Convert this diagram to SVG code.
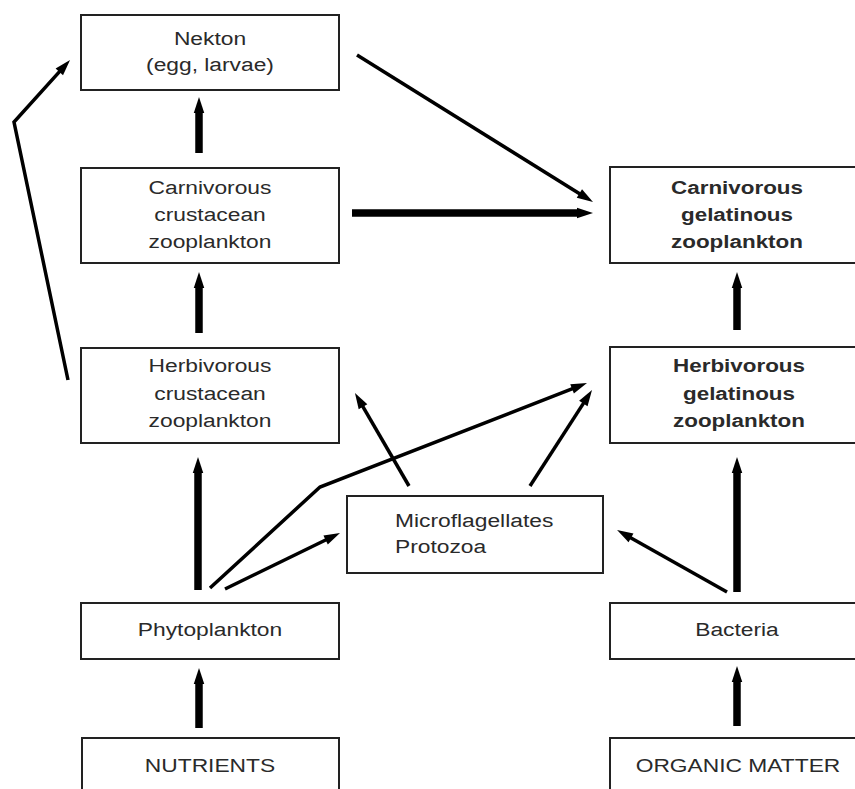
<svg xmlns="http://www.w3.org/2000/svg" width="855" height="789" viewBox="0 0 855 789">
<style>
.box{fill:#fff;stroke:#222;stroke-width:2}
.t{font-family:"Liberation Sans",Arial,sans-serif;font-size:19px;fill:#2a2a2a;text-anchor:middle}
.b{font-weight:bold}
.s{text-anchor:start}
.thin{fill:none;stroke:#000;stroke-width:3.5;marker-end:url(#ah)}
.thick{fill:none;stroke:#000;stroke-width:7.5;marker-end:url(#ahk)}
</style>
<defs>
<marker id="ah" markerUnits="userSpaceOnUse" markerWidth="16" markerHeight="10" refX="4" refY="5" orient="auto" overflow="visible"><path d="M0,0 L16,5 L0,10 Z" fill="#000"/></marker>
<marker id="ahk" markerUnits="userSpaceOnUse" markerWidth="16" markerHeight="10.5" refX="4" refY="5.25" orient="auto" overflow="visible"><path d="M0,0 L16,5.25 L0,10.5 Z" fill="#000"/></marker>
</defs>
<rect width="855" height="789" fill="#fff"/>
<g id="nekton"><rect class="box" x="81" y="15" width="258" height="75"/>
<g transform="translate(210,0) scale(1.2,1)"><text class="t" x="0" y="45">Nekton</text><text class="t" x="0" y="71">(egg, larvae)</text></g></g>
<g id="carn-crust"><rect class="box" x="81" y="168" width="258" height="95"/>
<g transform="translate(210,0) scale(1.2,1)"><text class="t" x="0" y="194">Carnivorous</text><text class="t" x="0" y="221">crustacean</text><text class="t" x="0" y="248">zooplankton</text></g></g>
<g id="herb-crust"><rect class="box" x="81" y="348" width="258" height="95"/>
<g transform="translate(210,0) scale(1.2,1)"><text class="t" x="0" y="372">Herbivorous</text><text class="t" x="0" y="400">crustacean</text><text class="t" x="0" y="427">zooplankton</text></g></g>
<g id="phyto"><rect class="box" x="81" y="603" width="258" height="56"/>
<g transform="translate(210,0) scale(1.2,1)"><text class="t" x="0" y="636">Phytoplankton</text></g></g>
<g id="nutrients"><rect class="box" x="82" y="738" width="257" height="70"/>
<g transform="translate(210,0) scale(1.2,1)"><text class="t" x="0" y="772">NUTRIENTS</text></g></g>
<g id="carn-gel"><rect class="box" x="610" y="167" width="256" height="96"/>
<g transform="translate(737,0) scale(1.18,1)"><text class="t b" x="0" y="194">Carnivorous</text><text class="t b" x="0" y="221">gelatinous</text><text class="t b" x="0" y="248">zooplankton</text></g></g>
<g id="herb-gel"><rect class="box" x="610" y="347" width="256" height="96"/>
<g transform="translate(739,0) scale(1.18,1)"><text class="t b" x="0" y="372">Herbivorous</text><text class="t b" x="0" y="400">gelatinous</text><text class="t b" x="0" y="427">zooplankton</text></g></g>
<g id="bacteria"><rect class="box" x="610" y="603" width="256" height="56"/>
<g transform="translate(737,0) scale(1.2,1)"><text class="t" x="0" y="636">Bacteria</text></g></g>
<g id="organic"><rect class="box" x="610" y="738" width="256" height="70"/>
<g transform="translate(738,0) scale(1.2,1)"><text class="t" x="0" y="772">ORGANIC MATTER</text></g></g>
<g id="microflag"><rect class="box" x="347" y="496" width="256" height="77"/>
<g transform="translate(395,0) scale(1.2,1)"><text class="t s" x="0" y="527">Microflagellates</text><text class="t s" x="0" y="553">Protozoa</text></g></g>
<g id="connectors">
<line class="thick" x1="199" y1="728" x2="199" y2="680"/>
<line class="thick" x1="198" y1="590" x2="198" y2="469"/>
<line class="thick" x1="199" y1="333" x2="199" y2="284"/>
<line class="thick" x1="199" y1="153" x2="199" y2="109"/>
<line class="thick" x1="737" y1="592" x2="737" y2="469"/>
<line class="thick" x1="737" y1="330" x2="737" y2="284"/>
<line class="thick" x1="737" y1="726" x2="737" y2="678"/>
<line class="thick" x1="352" y1="213" x2="581" y2="213"/>
<line class="thin" x1="357" y1="55" x2="582.8" y2="195.7"/>
<polyline class="thin" points="68,380 14,122 62,68.9"/>
<polyline class="thin" points="210,588 320,487 575.8,387.4"/>
<line class="thin" x1="225" y1="589" x2="329.2" y2="538.3"/>
<line class="thin" x1="409" y1="486" x2="361" y2="403.4"/>
<line class="thin" x1="530" y1="486" x2="585.5" y2="400.1"/>
<line class="thin" x1="727" y1="592" x2="627.5" y2="535.9"/>
</g>
</svg>
